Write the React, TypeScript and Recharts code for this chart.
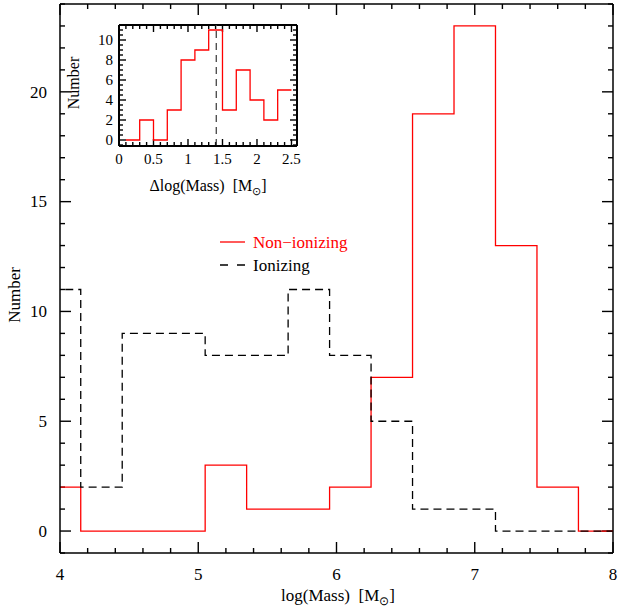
import React from 'react';
import { ComposedChart, Line, XAxis, YAxis, ReferenceLine } from 'recharts';

// bin edges in log(Mass), bin width 0.3
const massEdges = [3.85, 4.15, 4.45, 4.75, 5.05, 5.35, 5.65, 5.95, 6.25, 6.55, 6.85, 7.15, 7.45, 7.75, 8.05];
const nonIonizing = [2, 0, 0, 0, 3, 1, 1, 2, 7, 19, 23, 13, 2, 0];
const ionizing = [11, 2, 9, 9, 8, 8, 11, 8, 5, 1, 1, 0, 0, 0];

// inset: Δlog(Mass), bin width 0.2
const deltaEdges = [0.1, 0.3, 0.5, 0.7, 0.9, 1.1, 1.3, 1.5, 1.7, 1.9, 2.1, 2.3, 2.5];
const deltaCounts = [0, 2, 0, 3, 8, 9, 11, 3, 7, 4, 2, 5];
const deltaSplit = 1.41;

const mainXLabels = [4, 5, 6, 7, 8];
const mainYLabels = [0, 5, 10, 15, 20];
const insetXLabels = [0, 0.5, 1, 1.5, 2, 2.5];
const insetYLabels = [0, 2, 4, 6, 8, 10];

const FONT = '"Liberation Serif", "Times New Roman", serif';

// step rows: last edge repeats the last bin value
const stepRows = (edges: number[], series: Record<string, number[]>) =>
  edges.map((x, i) => {
    const row: any = { x };
    for (const k of Object.keys(series)) {
      const v = series[k];
      row[k] = v[Math.min(i, v.length - 1)];
    }
    return row;
  });

const mainRows = stepRows(massEdges, { non: nonIonizing, ion: ionizing });
const insetRows = stepRows(deltaEdges, { d: deltaCounts });

const range = (a: number, b: number, step: number) => {
  const out: number[] = [];
  for (let i = 0; a + i * step <= b + 1e-9; i++) out.push(+(a + i * step).toFixed(3));
  return out;
};

const isIn = (list: number[], v: number) => list.some((m) => Math.abs(m - v) < 1e-6);

// tick labels only; the tick marks are drawn as reference segments
function labelTick(side: 'bottom' | 'left', labels: number[], fontSize: number, gap: number) {
  return (props: any) => {
    const { x, y, payload } = props;
    const v = payload.value;
    if (!isIn(labels, v)) return <g />;
    if (side === 'bottom')
      return <text x={x} y={y + gap} textAnchor="middle" fontSize={fontSize} fontFamily={FONT} fill="#000">{v}</text>;
    return <text x={x - gap} y={y + fontSize * 0.34} textAnchor="end" fontSize={fontSize} fontFamily={FONT} fill="#000">{v}</text>;
  };
}

type FrameOpts = {
  xd: [number, number]; yd: [number, number];
  xTicks: number[]; yTicks: number[];
  xMajors: number[]; yMajors: number[];
  w: number; h: number; major: number; minor: number; sw: number; key: string;
};

// inward ticks on all four sides + top/right frame
function frameMarks(o: FrameOpts) {
  const xpp = (o.xd[1] - o.xd[0]) / o.w;
  const ypp = (o.yd[1] - o.yd[0]) / o.h;
  const out: any[] = [];
  const seg = (k: string, a: any, b: any) =>
    out.push(<ReferenceLine key={o.key + k} xAxisId="b" yAxisId="l" segment={[a, b]} stroke="#000" strokeWidth={1.4} ifOverflow="visible" />);
  o.xTicks.forEach((v) => {
    const len = (isIn(o.xMajors, v) ? o.major : o.minor) * ypp;
    seg('xb' + v, { x: v, y: o.yd[0] }, { x: v, y: o.yd[0] + len });
    seg('xt' + v, { x: v, y: o.yd[1] }, { x: v, y: o.yd[1] - len });
  });
  o.yTicks.forEach((v) => {
    const len = (isIn(o.yMajors, v) ? o.major : o.minor) * xpp;
    seg('yl' + v, { x: o.xd[0], y: v }, { x: o.xd[0] + len, y: v });
    seg('yr' + v, { x: o.xd[1], y: v }, { x: o.xd[1] - len, y: v });
  });
  out.push(<ReferenceLine key={o.key + 'top'} xAxisId="b" yAxisId="l" y={o.yd[1]} stroke="#000" strokeWidth={o.sw} ifOverflow="visible" />);
  out.push(<ReferenceLine key={o.key + 'right'} xAxisId="b" yAxisId="l" x={o.xd[1]} stroke="#000" strokeWidth={o.sw} ifOverflow="visible" />);
  return out;
}

const axisCommon = {
  type: 'number' as const,
  allowDataOverflow: true,
  interval: 0 as const,
  tickSize: 0,
  tickMargin: 0,
  tickLine: false,
};

function MainChart() {
  const xd: [number, number] = [4, 8];
  const yd: [number, number] = [-1, 24];
  const xTicks = range(4, 8, 0.2);
  const yTicks = range(-1, 24, 1);
  const frame = { stroke: '#000', strokeWidth: 1.5 };
  return (
    <ComposedChart width={618} height={611} data={mainRows} margin={{ top: 4, right: 5, bottom: 0, left: 0 }}>
      <XAxis xAxisId="b" dataKey="x" {...axisCommon} domain={xd} ticks={xTicks} height={58}
        axisLine={frame} tick={labelTick('bottom', mainXLabels, 17, 27)} />
      <YAxis yAxisId="l" {...axisCommon} domain={yd} ticks={yTicks} width={60}
        axisLine={frame} tick={labelTick('left', mainYLabels, 17, 13)} />
      {frameMarks({ xd, yd, xTicks, yTicks, xMajors: mainXLabels, yMajors: mainYLabels, w: 553, h: 549, major: 11, minor: 5, sw: 1.5, key: 'm' })}
      <Line xAxisId="b" yAxisId="l" dataKey="non" type="stepAfter" stroke="#ff0000" strokeWidth={1.3}
        dot={false} activeDot={false} isAnimationActive={false} />
      <Line xAxisId="b" yAxisId="l" dataKey="ion" type="stepAfter" stroke="#000" strokeWidth={1.3}
        strokeDasharray="8 5" dot={false} activeDot={false} isAnimationActive={false} />
    </ComposedChart>
  );
}

function InsetChart() {
  const xd: [number, number] = [0, 2.58];
  const yd: [number, number] = [-0.6, 11.5];
  const xTicks = range(0, 2.5, 0.1);
  const yTicks = range(-0.5, 11.5, 0.5);
  const frame = { stroke: '#000', strokeWidth: 2 };
  return (
    <ComposedChart width={330} height={200} data={insetRows} margin={{ top: 25, right: 33, bottom: 0, left: 0 }}>
      <XAxis xAxisId="b" dataKey="x" {...axisCommon} domain={xd} ticks={xTicks} height={54}
        axisLine={frame} tick={labelTick('bottom', insetXLabels, 15, 18)} />
      <YAxis yAxisId="l" {...axisCommon} domain={yd} ticks={yTicks} width={119}
        axisLine={frame} tick={labelTick('left', insetYLabels, 15, 6)} />
      {frameMarks({ xd, yd, xTicks, yTicks, xMajors: insetXLabels, yMajors: insetYLabels, w: 178, h: 121, major: 7, minor: 4, sw: 2, key: 'i' })}
      <Line xAxisId="b" yAxisId="l" dataKey="d" type="stepAfter" stroke="#ff0000" strokeWidth={1.3}
        dot={false} activeDot={false} isAnimationActive={false} />
      <ReferenceLine xAxisId="b" yAxisId="l" x={deltaSplit} stroke="#444" strokeWidth={1.3} strokeDasharray="7 5" />
    </ComposedChart>
  );
}

const Msun = () => (
  <>
    M<tspan fontSize="0.7em" dy={4}>⊙</tspan><tspan dy={-4}>]</tspan>
  </>
);

export default function App() {
  return (
    <div style={{ position: 'fixed', left: 0, top: 0, width: 618, height: 611, background: '#fff' }}>
      <div style={{ position: 'absolute', left: 0, top: 0 }}>
        <MainChart />
      </div>
      <div style={{ position: 'absolute', left: 0, top: 0 }}>
        <InsetChart />
      </div>
      <svg width={618} height={611} style={{ position: 'absolute', left: 0, top: 0, pointerEvents: 'none' }}>
        <g fontFamily={FONT} fill="#000">
          <text x={338} y={601} textAnchor="middle" fontSize={17} xmlSpace="preserve">log(Mass)  [<Msun /></text>
          <text transform="translate(20,295) rotate(-90)" textAnchor="middle" fontSize={17}>Number</text>
          <text x={208} y={191} textAnchor="middle" fontSize={16} xmlSpace="preserve">Δlog(Mass)  [<Msun /></text>
          <text transform="translate(79,83) rotate(-90)" textAnchor="middle" fontSize={16}>Number</text>
        </g>
        <line x1={220} y1={242} x2={245} y2={242} stroke="#ff0000" strokeWidth={1.3} />
        <text x={253} y={248} fontSize={17} fontFamily={FONT} fill="#ff0000">Non−ionizing</text>
        <line x1={220} y1={265} x2={245} y2={265} stroke="#000" strokeWidth={1.3} strokeDasharray="8 9" />
        <text x={253} y={271} fontSize={17} fontFamily={FONT} fill="#000">Ionizing</text>
      </svg>
    </div>
  );
}
